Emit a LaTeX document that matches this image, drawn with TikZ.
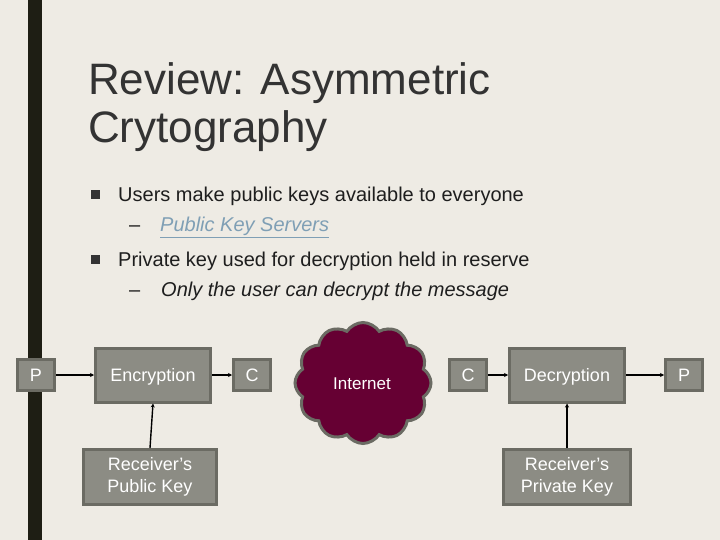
\documentclass[tikz,border=0pt]{standalone}
\usepackage{fontspec}
\setmainfont{Liberation Sans}
\usetikzlibrary{shapes.symbols,arrows.meta}
\definecolor{bg}{HTML}{EEEBE4}
\definecolor{bar}{HTML}{1E1E14}
\definecolor{boxfill}{HTML}{8C8C84}
\definecolor{boxline}{HTML}{6B6B63}
\definecolor{cloudfill}{HTML}{660033}
\definecolor{titlec}{HTML}{333333}
\definecolor{bodyc}{HTML}{1E1E1E}
\definecolor{linkc}{HTML}{7F9FB5}
\begin{document}
\begin{tikzpicture}[x=1pt,y=-1pt,
  gbox/.style={draw=boxline,fill=boxfill,line width=3pt,inner sep=0pt,text=white,font=\fontsize{18}{22}\selectfont,text height=12.9pt,text depth=0pt},
  gbox2/.style={draw=boxline,fill=boxfill,line width=3pt,inner sep=0pt,text=white,font=\fontsize{18}{22}\selectfont,align=center},
  conn/.style={line width=1.4pt,-{Stealth[length=4pt,width=4pt]}},
  bulletsq/.style={fill=titlec,minimum size=9pt,inner sep=0pt},
  btext/.style={anchor=base west,inner sep=0pt,text=bodyc,font=\fontsize{20}{24}\selectfont},
  ttext/.style={anchor=base west,inner sep=0pt,text=titlec,font=\fontsize{44}{48}\selectfont}]
\useasboundingbox (0,0) rectangle (720,540);
\fill[bg] (0,0) rectangle (720,540);
\fill[bar] (28,0) rectangle (42,540);
% title
\node[ttext] (t1) at (88,95) {Review: Asymmetric};
\node[ttext] (t2) at (88,143) {Crytography};
% bullets
\node[bulletsq] (b1) at (95.5,195) {};
\node[btext] (l1) at (118,202) {Users make public keys available to everyone};
\node[btext] (d1) at (129,232) {–};
\node[btext,text=linkc] (l1s) at (160,232) {\textit{\underline{Public Key Servers}}};
\node[bulletsq] (b2) at (95.5,259) {};
\node[btext] (l2) at (118,266) {Private key used for decryption held in reserve};
\node[btext] (d2) at (129,296) {–};
\node[btext] (l2s) at (161,296) {\textit{Only the user can decrypt the message}};
% diagram
\node[gbox,minimum width=37pt,minimum height=31pt] (p1) at (36,375) {P};
\node[gbox,minimum width=115pt,minimum height=54pt] (enc) at (153,375) {Encryption};
\node[gbox,minimum width=37pt,minimum height=31pt] (c1) at (252,375) {C};
\node[gbox2,minimum width=133pt,minimum height=55pt] (pub) at (150,477) {Receiver’s\\Public Key};
\node[cloud,cloud puffs=12,cloud puff arc=115,aspect=1.1,draw=boxline,fill=cloudfill,line width=3pt,
  minimum width=136pt,minimum height=121pt,inner sep=0pt] (net) at (363,383) {};
\node[text=white,font=\fontsize{17}{21}\selectfont] (netl) at (362,384) {Internet};
\node[gbox,minimum width=37pt,minimum height=31pt] (c2) at (468,375) {C};
\node[gbox,minimum width=115pt,minimum height=54pt] (dec) at (567,375) {Decryption};
\node[gbox,minimum width=37pt,minimum height=31pt] (p2) at (684,375) {P};
\node[gbox2,minimum width=127pt,minimum height=55pt] (priv) at (567,477) {Receiver’s\\Private Key};
\draw[conn] (p1) -- (enc);
\draw[conn] (enc) -- (c1);
\draw[conn] (pub.north) -- (enc.south);
\draw[conn] (c2) -- (dec);
\draw[conn] (dec) -- (p2);
\draw[conn] (priv.north) -- (dec.south);
\end{tikzpicture}
\end{document}
